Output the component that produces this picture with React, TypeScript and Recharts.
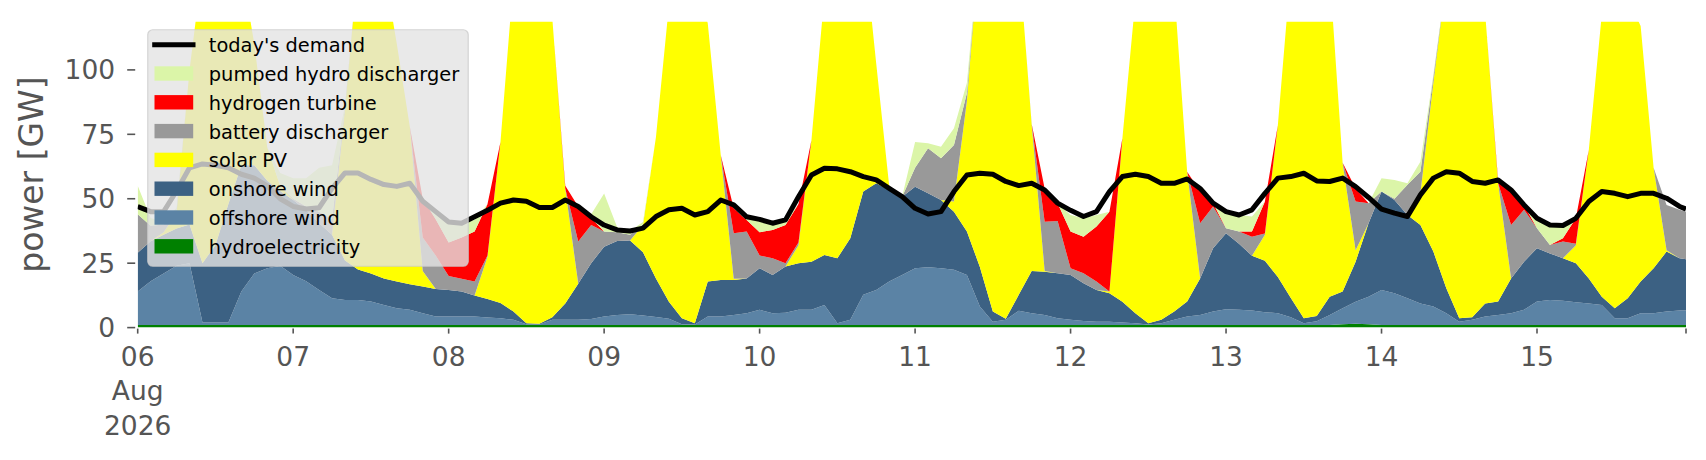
import { Area, ComposedChart, Line, XAxis, YAxis } from 'recharts'

// hours since 06 Aug 2026 00:00, every 2 h, plus the last hourly stamp
const HOURS = [
    0, 2, 4, 6, 8, 10, 12, 14, 16, 18, 20, 22,
    24, 26, 28, 30, 32, 34, 36, 38, 40, 42, 44, 46,
    48, 50, 52, 54, 56, 58, 60, 62, 64, 66, 68, 70,
    72, 74, 76, 78, 80, 82, 84, 86, 88, 90, 92, 94,
    96, 98, 100, 102, 104, 106, 108, 110, 112, 114, 116, 118,
    120, 122, 124, 126, 128, 130, 132, 134, 136, 138, 140, 142,
    144, 146, 148, 150, 152, 154, 156, 158, 160, 162, 164, 166,
    168, 170, 172, 174, 176, 178, 180, 182, 184, 186, 188, 190,
    192, 194, 196, 198, 200, 202, 204, 206, 208, 210, 212, 214,
    216, 218, 220, 222, 224, 226, 228, 230, 232, 234, 236, 238, 239
]

const HYDRO = [
    1, 1, 1, 1, 1, 1, 1, 1, 1, 1, 1, 1,
    1, 1, 1, 1, 1, 1, 1, 1, 1, 1, 1, 1,
    1, 1, 1, 1, 1, 1, 1, 1, 1, 1, 1, 1,
    1, 1, 1, 1, 1, 1, 1, 1, 1, 1, 1, 1,
    1, 1, 1, 1, 1, 1, 1, 1, 1, 1, 1, 1,
    1, 1, 1, 1, 1, 1, 1, 1, 1, 1, 1, 1,
    1, 1, 1, 1, 1, 1, 1, 1, 1, 1, 1, 1,
    1, 1, 1, 1, 1, 1, 1, 1, 1, 1.3, 1.5, 1.3,
    1, 1, 1, 1, 1, 1, 1, 1, 1, 1, 1, 1,
    1, 1, 1, 1, 1, 1, 1, 1, 1, 1, 1, 1, 1
]

const OFFSHORE = [
    13, 17, 20, 23, 24, 1, 1, 1, 13, 20, 22, 23,
    19.4, 17, 13.6, 10.4, 9.7, 9.7, 9.1, 7.8, 6.5, 5.9, 4.6, 3.3,
    3.3, 3.3, 3.3, 2.9, 2.6, 2, 0.3, 0.2, 2, 2, 2, 2.3,
    3.3, 3.9, 4.2, 3.7, 3.1, 2.4, 0.3, 0.2, 3.3, 3.3, 3.9, 4.6,
    5.9, 4.6, 4.8, 5.9, 5.9, 7.8, 0.7, 2, 11.7, 13.6, 16.9, 19.4,
    22, 22.4, 22, 21.4, 19.4, 7.2, 1.3, 2, 5.5, 4.6, 3.9, 2.6,
    2, 1.6, 1.3, 1.3, 1, 0.7, 0.2, 0.7, 2, 3.3, 3.9, 5.2,
    6.1, 5.9, 5.6, 5, 4.6, 3, 0.7, 1.5, 3.9, 6.2, 8.5, 10.7,
    13.6, 12.3, 10.4, 8.4, 7.2, 4.6, 1.3, 2, 3.3, 3.9, 4.6, 5.9,
    9.1, 9.7, 9.4, 8.8, 8.4, 7.8, 2.6, 2.6, 4.6, 4.6, 5.2, 5.6, 5.6
]

const ONSHORE = [
    15, 15.5, 15, 14.5, 15, 23, 30, 46, 49, 42, 34, 29,
    29.1, 27.5, 25.9, 24.6, 15.3, 11.8, 10.9, 10.3, 10.4, 9.9, 10.3, 10.7,
    10.3, 9.7, 8.2, 7.2, 5.9, 3.2, 0.4, 0.3, 1, 6.4, 14, 21.7,
    27.1, 28.7, 28.6, 24.5, 15, 6.6, 2.3, 0.5, 13.6, 14.2, 13.6, 13.5,
    16.1, 14.8, 17.9, 18.1, 18.7, 19.4, 25.2, 31.7, 40.1, 41.4, 35.5, 30.4,
    31.7, 28.7, 26.5, 22.6, 16.9, 15.3, 3.9, 0.4, 6.2, 16.4, 16.8, 17.5,
    17.4, 14.6, 12.3, 11, 8, 3.9, 0.5, 1.3, 3.2, 5.8, 14.2, 24.6,
    29.5, 25.6, 21.3, 19.9, 14, 7.5, 1.9, 2, 7.1, 6.5, 15.6, 28.5,
    38.2, 36.2, 32.3, 30.4, 21.3, 9.7, 1.3, 1, 5.1, 5.2, 13.5, 18.7,
    20.7, 18.1, 16.5, 15.2, 9.7, 3.2, 3.9, 7.8, 12.3, 17.4, 23.3, 20.3, 19.9
]

const SOLAR = [
    0, 0, 1, 6, 60, 115, 133, 117, 77, 47, 13, 2,
    0, 0, 0, 0, 59, 117.5, 129, 120.9, 92.1, 61.2, 6.1, 0,
    0, 0, 0, 16.4, 62.5, 128.8, 148.3, 148.5, 116, 44.6, 0, 0,
    0, 0, 0, 10.6, 54.9, 115, 141.4, 138.3, 100.1, 48.5, 0.5, 0,
    0, 0, 0, 7, 47.1, 100.8, 123.1, 120.3, 98.2, 46.5, 1.6, 0,
    0, 0, 0, 3.9, 50.7, 126.5, 153.8, 151.6, 131.3, 56.7, 0.3, 0,
    0, 0, 0, 0.7, 63.5, 121.4, 143.3, 142, 125.3, 50.4, 0, 0,
    0, 0, 0, 10.1, 59, 127.3, 146.4, 145.5, 125.6, 49.8, 4.4, 0,
    0, 0, 0, 12.2, 65.5, 119.7, 146.4, 141, 112.6, 45.9, 0, 0,
    0, 0, 0, 7, 49.9, 109.5, 122.5, 116.6, 99.1, 39, 0.5, 0, 0
]

const BATTERY = [
    15, 6, 3, 1, 0, 0, 0, 0, 0, 0, 0, 0,
    0.5, 1.5, 4.5, 6, 1, 0, 0, 0, 0, 0, 13, 13,
    5.4, 5, 5.4, 0.5, 0, 0, 0, 0, 0, 0, 16.4, 14.8,
    5.9, 3.4, 2.2, 0.2, 0, 0, 0, 0, 0, 0, 17.6, 18.2,
    5, 6.5, 1.3, 1, 0, 0, 0, 0, 0, 0, 0, 0,
    7.3, 17.5, 16.2, 22, 3, 0, 0, 0, 0, 0.3, 19.1, 20.3,
    2.6, 3.9, 3.3, 0, 0, 0, 0, 0, 0, 0, 21.4, 16.2,
    2, 4.8, 7.4, 0.5, 0, 0, 0, 0, 0, 0.2, 18.9, 7.8,
    0, 0.5, 11.7, 8.5, 2, 0, 0, 0, 0, 0, 20.7, 20.1,
    7.8, 3.3, 6.5, 0.5, 0, 0, 0, 0, 0, 0, 17.6, 18.8, 18.5
]

const HYDROGEN = [
    0, 0, 0, 0, 0, 0, 0, 0, 0, 0, 0, 0,
    0, 0, 0, 0, 0, 0, 0, 0, 0, 0, 15, 14,
    13, 16, 19.4, 20, 0, 0, 0, 0, 0, 1, 13.6, 2.7,
    0, 0, 0, 0, 0, 0, 0, 0, 0, 0, 9.7, 4.5,
    9, 11, 14.8, 15, 0, 0, 0, 0, 0, 0, 0, 0,
    0, 0, 0, 0, 0, 0, 0, 0, 0, 0, 12.9, 6.9,
    14.3, 14.2, 21.3, 31, 0, 0, 0, 0, 0, 0, 12.3, 1.3,
    0, 0, 2, 12.4, 0, 0, 0, 0, 0, 0, 5.1, 0,
    0, 0, 0, 0, 0, 0, 0, 0, 0, 1, 13.6, 1.9,
    0, 0, 1.3, 9.9, 0, 0, 0, 0, 0, 0, 0, 0, 0
]

const PUMPED_HYDRO = [
    11, 3, 1, 1, 0, 0, 0, 0, 0, 0, 0, 5,
    8, 11, 17, 21, 0, 0, 0, 0, 0, 0, 0, 4,
    8, 6, 4.5, 0, 0, 0, 0, 0, 0, 0, 0, 1.5,
    14.7, 2, 1.5, 1, 0, 0, 0, 0, 0, 0, 0, 0.7,
    5, 2.6, 1.3, 0, 0, 0, 0, 0, 0, 0, 0, 0,
    10, 1.9, 4.5, 6.5, 4, 0, 0, 0, 0, 0, 0, 0,
    6.4, 7.1, 4.5, 0, 0, 0, 0, 0, 0, 0, 0, 0,
    6.4, 6.4, 5.8, 0, 0, 0, 0, 0, 0, 0, 0, 0,
    5.2, 7.3, 0.6, 3.9, 1, 0, 0, 0, 0, 0, 0, 0,
    3.6, 7.1, 4.2, 0, 0, 0, 0, 0, 0, 0, 0, 0, 0
]

const DEMAND = [
    47, 45, 45, 53, 62, 63.5, 63, 62, 59.5, 58, 55, 50,
    47, 46, 46.5, 54, 60, 60, 57.5, 55.5, 54.8, 56, 49, 45,
    41, 40.5, 43, 45.5, 48.3, 49.5, 49, 46.6, 46.6, 49.5, 47, 43,
    39.8, 37.9, 37.5, 38.6, 43.1, 45.7, 46.3, 43.7, 45, 49.5, 47.6, 43,
    42, 40.5, 41.8, 50.8, 59.2, 61.8, 61.6, 60.5, 58.6, 57.3, 54, 50.8,
    46.3, 44.1, 45, 52.8, 59.2, 59.9, 59.5, 56.7, 55.1, 56, 53.4, 48.3,
    45.5, 43.1, 45, 52.8, 58.6, 59.5, 58.6, 56, 56, 57.7, 54, 48.3,
    45, 43.7, 45.7, 52.1, 58, 58.6, 59.9, 56.9, 56.7, 58, 54.7, 50.5,
    46, 44.4, 43.1, 51.5, 58, 60.5, 59.9, 56.7, 56, 57.3, 53.4, 47.6,
    42.4, 39.8, 39.6, 42.4, 48.9, 52.8, 52.1, 50.8, 52.1, 52.1, 50.2, 47, 46
]

const X_TICKS = [0, 24, 48, 72, 96, 120, 144, 168, 192, 216, 239]
const X_TICK_LABELS: Record<number, string[]> = {
    0: ['06', 'Aug', '2026'],
    24: ['07'],
    48: ['08'],
    72: ['09'],
    96: ['10'],
    120: ['11'],
    144: ['12'],
    168: ['13'],
    192: ['14'],
    216: ['15']
}
const Y_TICKS = [0, 25, 50, 75, 100]
const Y_MAX = 118.7

const FONT = '"DejaVu Sans", sans-serif'
const AXIS_GREY = '#555555'

// stack order, bottom first
const STACK = [
    { key: 'hydro', name: 'hydroelectricity', color: '#008000', values: HYDRO },
    { key: 'offshore', name: 'offshore wind', color: '#5b83a5', values: OFFSHORE },
    { key: 'onshore', name: 'onshore wind', color: '#3c6183', values: ONSHORE },
    { key: 'solar', name: 'solar PV', color: '#ffff00', values: SOLAR },
    { key: 'battery', name: 'battery discharger', color: '#999999', values: BATTERY },
    { key: 'hydrogen', name: 'hydrogen turbine', color: '#ff0000', values: HYDROGEN },
    { key: 'pumped', name: 'pumped hydro discharger', color: '#dbf5a8', values: PUMPED_HYDRO }
]

const data = HOURS.map((h, i) => {
    const row: Record<string, number> = { h, demand: DEMAND[i] }
    STACK.forEach((s) => {
        row[s.key] = s.values[i]
    })
    return row
})

function XTick({ x, y, payload }: any) {
    const lines = X_TICK_LABELS[payload.value] ?? []
    return (
        <g>
            <line x1={x} x2={x} y1={y + 1} y2={y + 6} stroke={AXIS_GREY} strokeWidth={1.6} />
            {lines.map((s, i) => (
                <text
                    key={i}
                    x={x}
                    y={y + 38 + i * 34.5}
                    textAnchor="middle"
                    fontSize={26.5}
                    fontFamily={FONT}
                    fill={AXIS_GREY}
                >
                    {s}
                </text>
            ))}
        </g>
    )
}

function YTick({ x, y, payload }: any) {
    return (
        <g>
            <line x1={x - 10.5} x2={x - 2.5} y1={y} y2={y} stroke={AXIS_GREY} strokeWidth={1.6} />
            <text x={x - 22.5} y={y} dy="0.36em" textAnchor="end" fontSize={26.5} fontFamily={FONT} fill={AXIS_GREY}>
                {payload.value}
            </text>
        </g>
    )
}

function LegendBox() {
    const rowH = 28.8
    const first = 15.7
    const entries = [{ name: "today's demand", color: '#000000', line: true }].concat(
        [...STACK].reverse().map((s) => ({ name: s.name, color: s.color, line: false }))
    )
    return (
        <svg width={323} height={239} style={{ position: 'absolute', left: 138.5, top: 20.8 }}>
            <rect
                x={0.75}
                y={0.75}
                width={320.5}
                height={236.5}
                rx={5}
                fill="rgba(228,228,228,0.8)"
                stroke="rgba(204,204,204,0.8)"
                strokeWidth={1.2}
            />
            {entries.map((e, i) => {
                const cy = first + i * rowH
                return (
                    <g key={e.name}>
                        {e.line ? (
                            <line x1={5.2} x2={48.5} y1={cy} y2={cy} stroke={e.color} strokeWidth={5} />
                        ) : (
                            <rect x={7.5} y={cy - 7.2} width={38.7} height={14.4} fill={e.color} />
                        )}
                        <text x={61.8} y={cy + 7.4} fontSize={19.4} fontFamily={FONT} fill="#000000">
                            {e.name}
                        </text>
                    </g>
                )
            })}
        </svg>
    )
}

export default function App() {
    return (
        <div style={{ position: 'relative', width: 1698, height: 452 }}>
            <ComposedChart
                width={1698}
                height={452}
                data={data}
                margin={{ top: 13.7, right: 20, bottom: 0, left: 0 }}
            >
                <XAxis
                    dataKey="h"
                    type="number"
                    domain={[0, 239]}
                    ticks={X_TICKS}
                    interval={0}
                    height={132.4}
                    axisLine={false}
                    tickLine={false}
                    tickSize={0}
                    tickMargin={0}
                    tick={<XTick />}
                    allowDataOverflow
                />
                <YAxis
                    type="number"
                    domain={[0, Y_MAX]}
                    ticks={Y_TICKS}
                    width={129.7}
                    axisLine={false}
                    tickLine={false}
                    tickSize={0}
                    tickMargin={0}
                    tick={<YTick />}
                    allowDataOverflow
                    label={{
                        value: 'power [GW]',
                        angle: -90,
                        position: 'insideLeft',
                        content: () => (
                            <text
                                x={35}
                                y={166.6}
                                transform="rotate(-90 35 166.6)"
                                textAnchor="middle"
                                fontSize={33}
                                fontFamily={FONT}
                                fill={AXIS_GREY}
                            >
                                power [GW]
                            </text>
                        )
                    }}
                />
                {STACK.map((s) => (
                    <Area
                        key={s.key}
                        type="linear"
                        dataKey={s.key}
                        name={s.name}
                        stackId="supply"
                        fill={s.color}
                        fillOpacity={1}
                        stroke="none"
                        dot={false}
                        activeDot={false}
                        isAnimationActive={false}
                    />
                ))}
                <Line
                    type="linear"
                    dataKey="demand"
                    name="today's demand"
                    stroke="#000000"
                    strokeWidth={5}
                    strokeLinejoin="round"
                    dot={false}
                    activeDot={false}
                    isAnimationActive={false}
                />
            </ComposedChart>
            <LegendBox />
        </div>
    )
}
